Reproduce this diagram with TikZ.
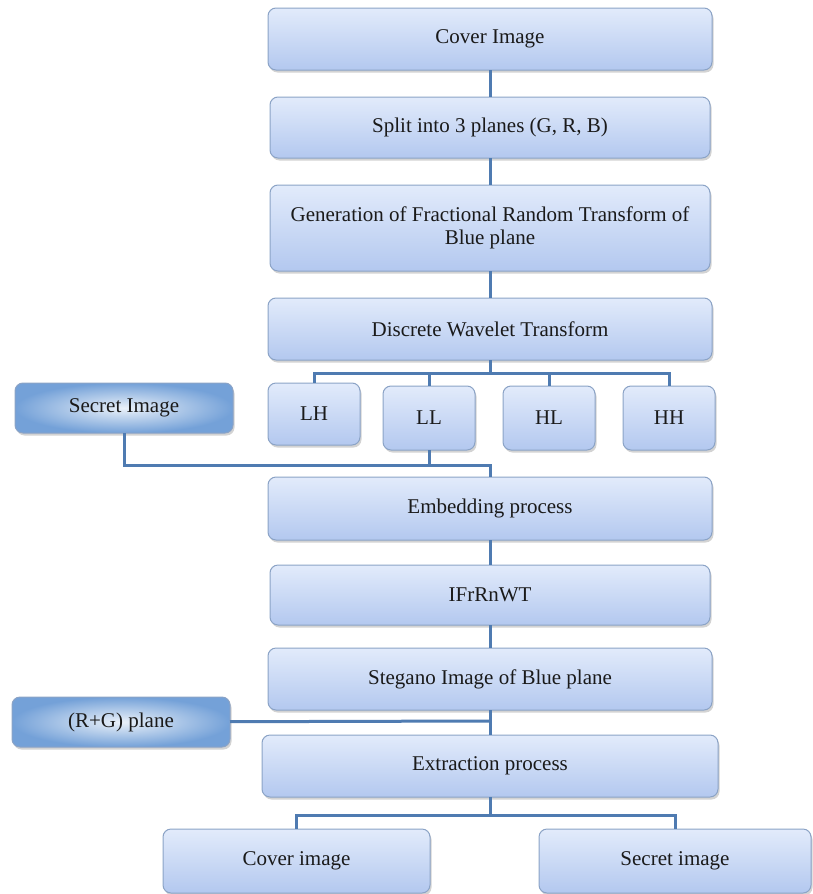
\documentclass[tikz,border=0pt]{standalone}
\usepackage{fontspec}
\setmainfont{Liberation Serif}
\usepackage{tikz}
\usetikzlibrary{shadows}

\begin{document}
\begin{tikzpicture}[x={(1pt,0pt)}, y={(0pt,-1pt)},
    %Option for the boxes and links
    inner sep=0pt, outer sep=0pt,%
    box/.style={draw=boxline, line width=1pt, rounded corners=8pt,
        top color=boxtop, bottom color=boxbottom, text=textcol,
        font=\rmfamily\fontsize{21}{23}\selectfont, align=center,
        drop shadow={opacity=0.35, shadow xshift=1.5pt, shadow yshift=-2.5pt},
        minimum width=#1},
    input/.style={box=#1, inner color=white!85!inputblue, outer color=inputblue},
    link/.style={line width=3pt, color=linkblue},
]
    % Colors
    \definecolor{boxtop}{HTML}{E2EBFB}
    \definecolor{boxbottom}{HTML}{B3C8EF}
    \definecolor{boxline}{HTML}{8BA3C6}
    \definecolor{inputblue}{HTML}{74A1D8}
    \definecolor{linkblue}{HTML}{4F7BB1}
    \definecolor{textcol}{HTML}{1A1A1A}

    \useasboundingbox (0,0) rectangle (812,894);

    % Main column
    \node[box=444, minimum height=62] (cover) at (490,39) {Cover Image};
    \node[box=440, minimum height=61] (split) at (490,127.5) {Split into 3 planes (G, R, B)};
    \node[box=440, minimum height=86] (gen) at (490,228) {Generation of Fractional Random Transform of\\Blue plane};
    \node[box=444, minimum height=62] (dwt) at (490,329) {Discrete Wavelet Transform};

    % Sub bands
    \node[box=92, minimum height=62] (lh) at (314,414) {LH};
    \node[box=92, minimum height=64] (ll) at (429,418) {LL};
    \node[box=92, minimum height=64] (hl) at (549,418) {HL};
    \node[box=92, minimum height=64] (hh) at (669,418) {HH};
    \node[input=218, minimum height=50] (secret) at (124,408) {Secret Image};

    \node[box=444, minimum height=63] (embed) at (490,508.5) {Embedding process};
    \node[box=440, minimum height=60] (ifr) at (490,595) {IFrRnWT};
    \node[box=444, minimum height=62] (stegano) at (490,679) {Stegano Image of Blue plane};
    \node[input=218, minimum height=50] (rg) at (121,722) {(R+G) plane};
    \node[box=456, minimum height=62] (extract) at (490,766) {Extraction process};

    % Outputs
    \node[box=267, minimum height=64] (coverout) at (296.5,861) {Cover image};
    \node[box=272, minimum height=64] (secretout) at (675,861) {Secret image};

    % Links
    \coordinate (dwtfork) at (490,373);
    \coordinate (embfork) at (490,465);
    \coordinate (rgfork) at (490,721);
    \coordinate (extfork) at (490,815);

    \draw[link] (cover) -- (split);
    \draw[link] (split) -- (gen);
    \draw[link] (gen) -- (dwt);
    \draw[link] (dwt) -- (dwtfork);
    \draw[link] (dwtfork) -| (lh);
    \draw[link] (dwtfork) -| (ll);
    \draw[link] (dwtfork) -| (hl);
    \draw[link] (dwtfork) -| (hh);
    \draw[link] (secret) |- (embfork);
    \draw[link] (ll) |- (embfork) -- (embed);
    \draw[link] (embed) -- (ifr);
    \draw[link] (ifr) -- (stegano);
    \draw[link] (stegano) -- (extract);
    \draw[link] (rg) -- (rgfork);
    \draw[link] (extract) -- (extfork);
    \draw[link] (extfork) -| (coverout);
    \draw[link] (extfork) -| (secretout);

\end{tikzpicture}
\end{document}
